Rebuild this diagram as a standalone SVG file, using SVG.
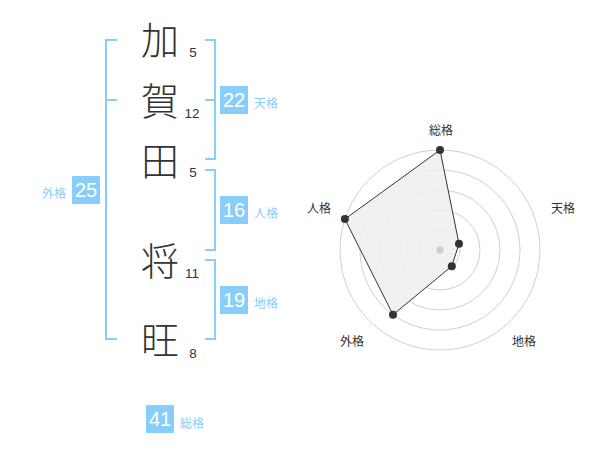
<svg xmlns="http://www.w3.org/2000/svg" width="600" height="470" viewBox="0 0 600 470">
<style>
.br{fill:none;stroke:#87cefa;stroke-width:2}
.box{fill:#87cefa}
.num{font-family:"Liberation Sans",Arial,sans-serif;font-size:20px;fill:#fff;text-anchor:middle}
.lab{font-family:"Noto Sans CJK JP","Noto Sans CJK SC",sans-serif;font-size:12px;fill:#87cefa}
.ch{font-family:"Noto Sans CJK JP","Noto Sans CJK SC",sans-serif;font-size:38px;font-weight:300;fill:#333;text-anchor:middle}
.st{font-family:"Liberation Sans",Arial,sans-serif;font-size:13.5px;fill:#333;text-anchor:middle}
.ring{fill:none;stroke:#d0d0d0;stroke-width:1}
.rl{font-family:"Noto Sans CJK JP","Noto Sans CJK SC",sans-serif;font-size:12px;fill:#333;text-anchor:middle}
.pt{fill:#333}
</style>
<rect width="600" height="470" fill="#fff"/>
<g id="connectors">
<path class="br" d="M117,40 H106 V339 H117 M106,100 H117"/>
<path class="br" d="M205,40 H215 V159 H205 M215,100 H205"/>
<path class="br" d="M205,170 H215 V250 H205"/>
<path class="br" d="M205,260 H215 V339 H205"/>
</g>
<g id="char1"><text class="ch" x="160" y="54">加</text><text class="st" x="193" y="57">5</text></g>
<g id="char2"><text class="ch" x="160" y="115">賀</text><text class="st" x="192" y="118">12</text></g>
<g id="char3"><text class="ch" x="160" y="175">田</text><text class="st" x="193" y="177">5</text></g>
<g id="char4"><text class="ch" x="160" y="275">将</text><text class="st" x="192" y="278">11</text></g>
<g id="char5"><text class="ch" x="160" y="354">旺</text><text class="st" x="193" y="358">8</text></g>
<g id="tenkaku"><rect class="box" x="220" y="86" width="28" height="28"/><text class="num" x="234" y="107">22</text><text class="lab" x="254" y="108">天格</text></g>
<g id="jinkaku"><rect class="box" x="220" y="196" width="28" height="28"/><text class="num" x="234" y="217">16</text><text class="lab" x="254" y="218">人格</text></g>
<g id="chikaku"><rect class="box" x="220" y="286" width="28" height="28"/><text class="num" x="234" y="307">19</text><text class="lab" x="254" y="308">地格</text></g>
<g id="gaikaku"><rect class="box" x="72" y="176" width="28" height="28"/><text class="num" x="86" y="197">25</text><text class="lab" x="66" y="198" text-anchor="end">外格</text></g>
<g id="soukaku"><rect class="box" x="146" y="405" width="28" height="28"/><text class="num" x="160" y="426">41</text><text class="lab" x="180" y="428">総格</text></g>
<g id="radar">
<circle class="ring" cx="440" cy="250" r="20"/>
<circle class="ring" cx="440" cy="250" r="40"/>
<circle class="ring" cx="440" cy="250" r="60"/>
<circle class="ring" cx="440" cy="250" r="80"/>
<circle class="ring" cx="440" cy="250" r="100"/>
<polygon points="440,150 459,243.8 451.8,266.2 393,314.7 344.9,219.1" fill="#efefef" fill-opacity="0.9" stroke="#333" stroke-width="1"/>
<circle cx="440" cy="250" r="3.5" fill="#ccc"/>
<circle class="pt" cx="440" cy="150" r="4"/>
<circle class="pt" cx="459" cy="243.8" r="4"/>
<circle class="pt" cx="451.8" cy="266.2" r="4"/>
<circle class="pt" cx="393" cy="314.7" r="4"/>
<circle class="pt" cx="344.9" cy="219.1" r="4"/>
<text class="rl" x="441" y="135">総格</text>
<text class="rl" x="563" y="213">天格</text>
<text class="rl" x="524" y="346">地格</text>
<text class="rl" x="352" y="346">外格</text>
<text class="rl" x="319" y="213">人格</text>
</g>
</svg>
